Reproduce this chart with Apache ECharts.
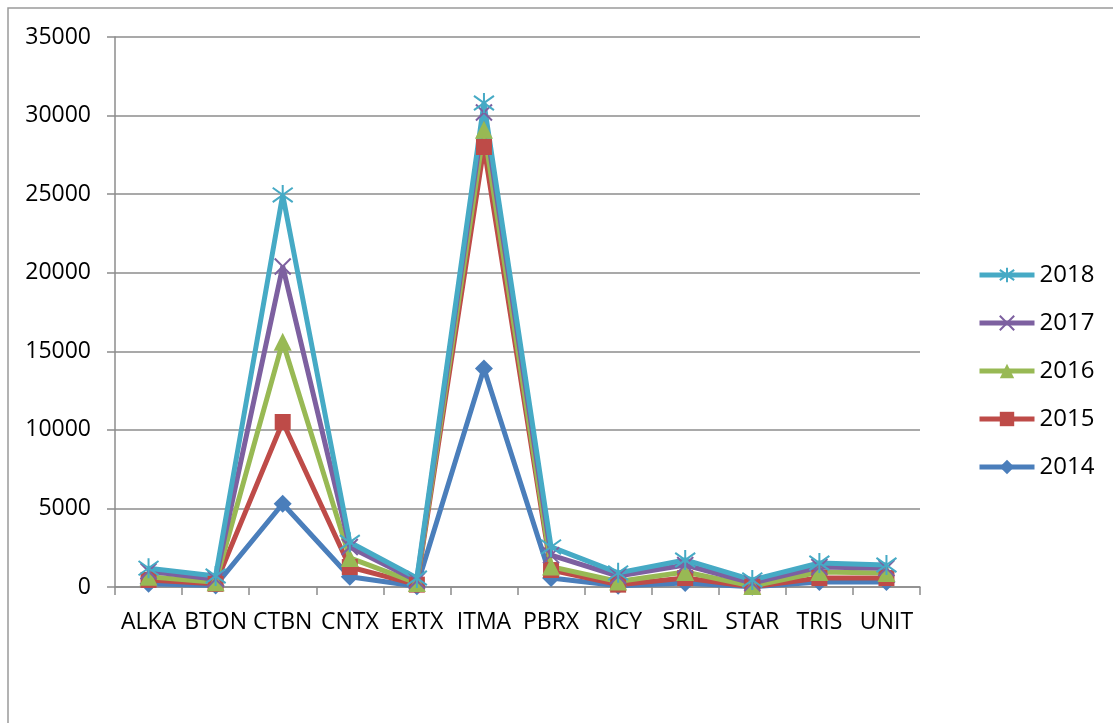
<!DOCTYPE html>
<html>
<head>
<meta charset="utf-8">
<script src="https://cdn.jsdelivr.net/npm/echarts@6/dist/echarts.min.js"></script>
<style>
  html, body { margin: 0; padding: 0; background: #fff; }
  #chart { width: 1113px; height: 723px; }
</style>
</head>
<body>
<div id="chart"></div>
<script>
// categories and yearly values
const CATEGORIES = ['ALKA', 'BTON', 'CTBN', 'CNTX', 'ERTX', 'ITMA', 'PBRX', 'RICY', 'SRIL', 'STAR', 'TRIS', 'UNIT'];
const Y2014 = [200, 100, 5300, 650, 50, 13900, 570, 80, 250, 10, 320, 320];
const Y2015 = [450, 200, 10500, 1270, 150, 28000, 1080, 150, 570, 20, 570, 570];
const Y2016 = [650, 300, 15600, 1850, 250, 29100, 1300, 350, 950, 60, 950, 890];
const Y2017 = [1000, 500, 20400, 2550, 400, 30200, 2030, 700, 1400, 250, 1270, 1200];
const Y2018 = [1200, 700, 24950, 2850, 570, 30800, 2550, 900, 1720, 450, 1530, 1400];
const YEARS = ['2014', '2015', '2016', '2017', '2018'];
const LEGEND_ORDER = ['2018', '2017', '2016', '2015', '2014'];

const FONT = '"Open Sans", sans-serif';
const GRID_GREY = '#8c8c8c';

// Excel-2007 style markers
const STYLES = {
  '2014': { color: '#4a7ebb', symbol: 'diamond', size: 18 },
  '2015': { color: '#be4b48', symbol: 'rect', size: 16 },
  '2016': { color: '#98b954', symbol: 'triangle', size: 18 },
  '2017': { color: '#7d60a0', symbol: 'path://M0,0L20,20M20,0L0,20', size: 16, stroke: true },
  '2018': { color: '#46aac5', symbol: 'path://M0,0L20,20M20,0L0,20M10,-4L10,24', size: 20, stroke: true },
};

const DATA = { '2014': Y2014, '2015': Y2015, '2016': Y2016, '2017': Y2017, '2018': Y2018 };

const chart = echarts.init(document.getElementById('chart'));

chart.setOption({
  animation: false,
  backgroundColor: '#fff',
  textStyle: { fontFamily: FONT },
  graphic: [
    // outer frame of the pasted chart (only top + left edges are visible)
    { type: 'polyline', shape: { points: [[8, 723], [8, 8], [1113, 8]] },
      style: { stroke: '#9a9a9a', lineWidth: 1.5, fill: null }, silent: true },
  ],
  grid: { left: 115, right: 193, top: 37, bottom: 136 },
  legend: {
    orient: 'vertical',
    left: 972, top: 258,
    data: LEGEND_ORDER,
    itemWidth: 55, itemHeight: 18, itemGap: 24,
    lineStyle: { width: 5 },
    textStyle: { color: '#000', fontSize: 24, fontFamily: FONT },
  },
  xAxis: {
    type: 'category',
    data: CATEGORIES,
    boundaryGap: true,
    axisLine: { lineStyle: { color: GRID_GREY, width: 1.5 } },
    axisTick: { show: true, length: 8, lineStyle: { color: GRID_GREY, width: 1.5 } },
    axisLabel: { color: '#000', fontSize: 23, margin: 24, fontFamily: FONT, interval: 0 },
  },
  yAxis: {
    type: 'value',
    min: 0, max: 35000, interval: 5000,
    axisLine: { show: true, lineStyle: { color: GRID_GREY, width: 1.5 } },
    axisTick: { show: true, length: 8, lineStyle: { color: GRID_GREY, width: 1.5 } },
    splitLine: { lineStyle: { color: GRID_GREY, width: 1.5 } },
    axisLabel: { color: '#000', fontSize: 23, margin: 24, fontFamily: FONT, formatter: v => String(v) },
  },
  series: YEARS.map(y => {
    const s = STYLES[y];
    return {
      name: y,
      type: 'line',
      data: DATA[y],
      symbol: s.symbol,
      symbolSize: s.size,
      lineStyle: { color: s.color, width: 5 },
      itemStyle: s.stroke
        ? { color: s.color, borderColor: s.color, borderWidth: 2 }
        : { color: s.color },
      emphasis: { disabled: true },
    };
  }),
});
</script>
</body>
</html>
